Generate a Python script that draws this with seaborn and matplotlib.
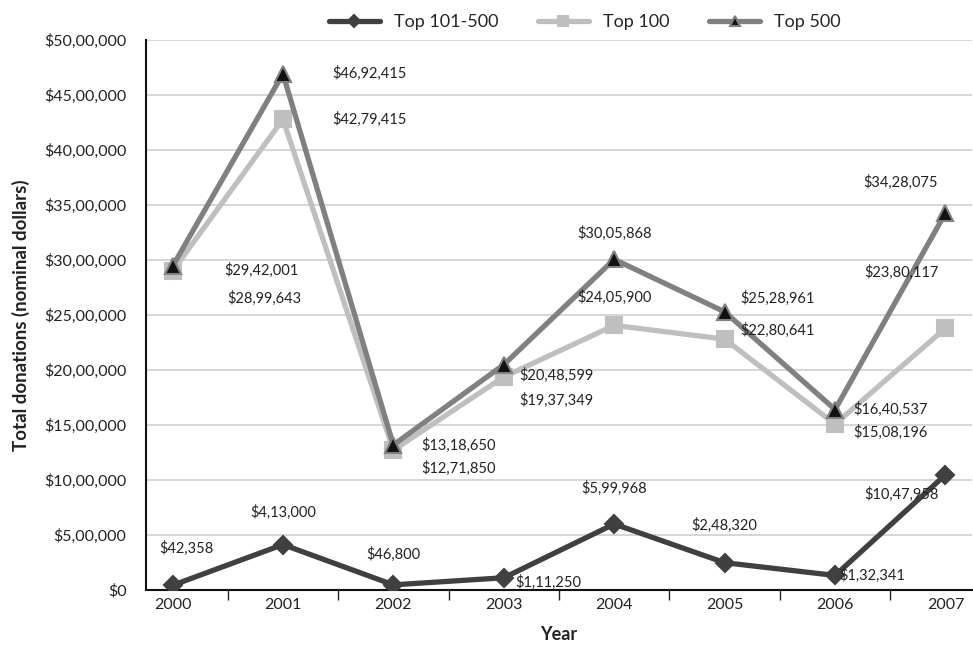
import matplotlib
matplotlib.use("Agg")
import matplotlib.pyplot as plt
import matplotlib.ticker as mticker
import numpy as np
import pandas as pd
import seaborn as sns

years = ["2000", "2001", "2002", "2003", "2004", "2005", "2006", "2007"]
series_names = ["Top 101-500", "Top 100", "Top 500"]
top_101_500 = [42358, 413000, 46800, 111250, 599968, 248320, 132341, 1047958]
top_100 = [2899643, 4279415, 1271850, 1937349, 2405900, 2280641, 1508196, 2380117]
top_500 = [2942001, 4692415, 1318650, 2048599, 3005868, 2528961, 1640537, 3428075]
y_ticks = list(range(0, 5000001, 500000))


def indian_format(v):
    s = str(int(round(v)))
    if len(s) <= 3:
        return "$" + s
    head, tail = s[:-3], s[-3:]
    groups = []
    while len(head) > 2:
        groups.insert(0, head[-2:])
        head = head[:-2]
    if head:
        groups.insert(0, head)
    return "$" + ",".join(groups + [tail])


df = pd.DataFrame({
    "Year": list(range(len(years))) * 3,
    "Value": top_101_500 + top_100 + top_500,
    "Series": sum([[n] * len(years) for n in series_names], []),
})

sns.set_theme(style="white")
plt.rcParams["font.family"] = ["Lato", "DejaVu Sans"]

fig = plt.figure(figsize=(9.73, 6.46), dpi=100)
ax = fig.add_axes([146 / 973, 56 / 646, 826 / 973, 550 / 646])

styles = {
    "Top 101-500": dict(color="#404040", marker="D", ms=9, mfc="#404040", mec="#404040", lw=3.8),
    "Top 100": dict(color="#BFBFBF", marker="s", ms=11, mfc="#BFBFBF", mec="#BFBFBF", lw=3.8),
    "Top 500": dict(color="#808080", marker="^", ms=11, mfc="#111111", mec="#808080", lw=3.8),
}

# label offsets in points (dx, dy) for each series and year
label_offsets = {
    "Top 101-500": [(10, 27), (0, 23), (0, 22), (32, -3), (0, 26), (0, 27), (27, 0), (-32, -14)],
    "Top 100": [(66, -20), (62, 0), (47, -13), (38, -17), (0, 20), (38, 6), (40, -6), (-32, 40)],
    "Top 500": [(64, -3), (62, 0), (47, 0), (38, -8), (0, 19), (38, 10), (40, 0), (-32, 22)],
}

for name in series_names:
    sub = df[df["Series"] == name]
    st = styles[name]
    sns.lineplot(data=sub, x="Year", y="Value", ax=ax, color=st["color"], lw=st["lw"],
                 marker=st["marker"], markersize=st["ms"], markerfacecolor=st["mfc"],
                 markeredgecolor=st["mec"], markeredgewidth=1.5, label=name, zorder=3)
    for (x, v), (dx, dy) in zip(zip(sub["Year"], sub["Value"]), label_offsets[name]):
        ax.annotate(indian_format(v), (x, v), xytext=(dx, dy), textcoords="offset points",
                    ha="center", va="center", fontsize=10.5, color="#222222", zorder=4)

ax.set_xlim(-0.24, 7.24)
ax.set_ylim(0, 5000000)
ax.set_yticks(y_ticks)
ax.yaxis.set_major_formatter(mticker.FuncFormatter(lambda v, p: indian_format(v)))
ax.set_xticks(range(len(years)))
ax.set_xticklabels(years)
ax.set_xticks(np.arange(0.5, len(years) - 1, 1.0), minor=True)
ax.tick_params(axis="x", which="major", length=0, pad=6, labelsize=11.5, colors="#222222")
ax.tick_params(axis="x", which="minor", length=7, width=1, color="#222222", direction="out", bottom=True)
ax.tick_params(axis="y", length=0, pad=14, labelsize=11.5, colors="#222222")
ax.grid(axis="y", color="#D0D0D0", lw=1.2)
ax.set_axisbelow(True)

for side in ["top", "right"]:
    ax.spines[side].set_visible(False)
for side in ["left", "bottom"]:
    ax.spines[side].set_color("#111111")
    ax.spines[side].set_linewidth(1.5)

ax.set_xlabel("Year", fontsize=13, fontweight="bold", color="#222222", labelpad=10)
ax.set_ylabel("Total donations (nominal dollars)", fontsize=13.5, fontweight="bold",
              color="#222222", labelpad=10)

ax.legend(loc="upper center", bbox_to_anchor=(585 / 973, 0.995), bbox_transform=fig.transFigure,
          ncol=3, frameon=False, fontsize=13, handlelength=2.8, columnspacing=2.2,
          markerscale=0.7, borderaxespad=0.2)

fig.savefig("out.png", dpi=100)
